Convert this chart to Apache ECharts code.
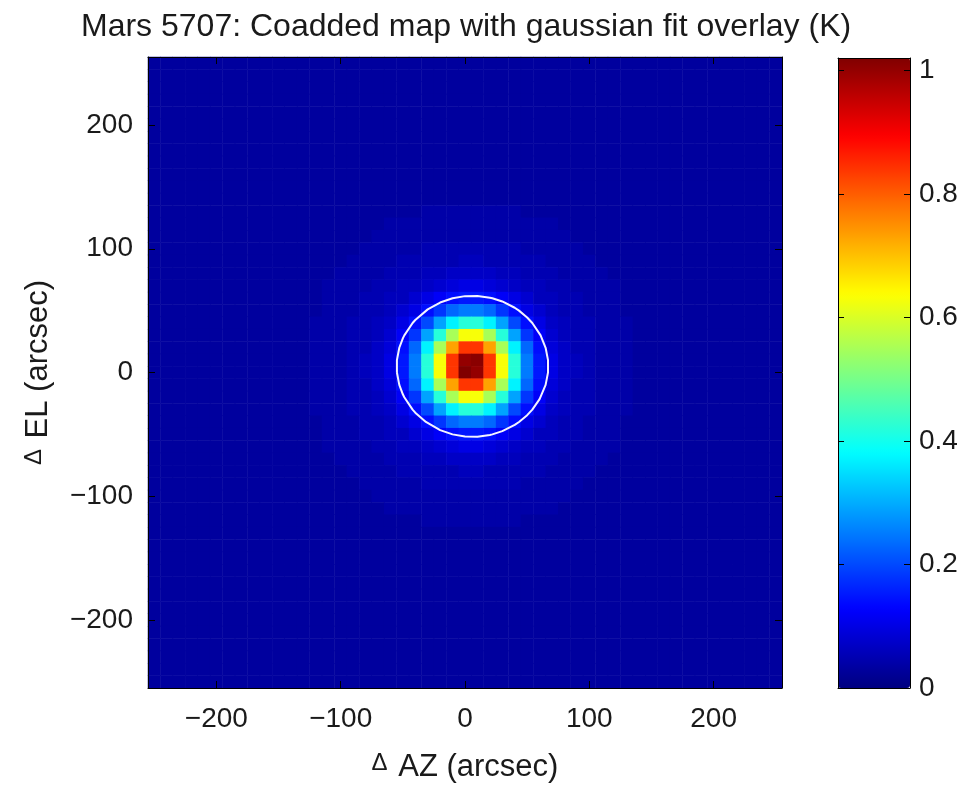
<!DOCTYPE html>
<html>
<head>
<meta charset="utf-8">
<script src="https://cdn.jsdelivr.net/npm/echarts@6/dist/echarts.min.js"></script>
<style>
  html, body { margin: 0; padding: 0; background: #ffffff; }
  #chart { width: 976px; height: 794px; }
</style>
</head>
<body>
<div id="chart"></div>
<script>
// Map pixel centres, arcsec offset from the source position
const azOffsets = [-250,-240,-230,-220,-210,-200,-190,-180,-170,-160,-150,-140,-130,-120,-110,-100,-90,-80,-70,-60,-50,-40,-30,-20,-10,0,10,20,30,40,50,60,70,80,90,100,110,120,130,140,150,160,170,180,190,200,210,220,230,240,250];
// Elevation rows, listed top (+250) to bottom (-250)
const elOffsets = [250,240,230,220,210,200,190,180,170,160,150,140,130,120,110,100,90,80,70,60,50,40,30,20,10,0,-10,-20,-30,-40,-50,-60,-70,-80,-90,-100,-110,-120,-130,-140,-150,-160,-170,-180,-190,-200,-210,-220,-230,-240,-250];

// Coadded brightness, hundredths of a kelvin; one row per elevation in elOffsets
const mapRows = [
  [3,3,3,3,3,3,3,3,3,3,3,3,3,3,3,3,3,3,3,3,3,3,3,3,3,3,3,3,3,3,3,3,3,3,3,3,3,3,3,3,3,3,3,3,3,3,3,3,3,3,3],
  [3,3,3,3,3,3,3,3,3,3,3,3,3,3,3,3,3,3,3,3,3,3,3,3,3,3,3,3,3,3,3,3,3,3,3,3,3,3,3,3,3,3,3,3,3,3,3,3,3,3,3],
  [3,3,3,3,3,3,3,3,3,3,3,3,3,3,3,3,3,3,3,3,3,3,3,3,3,3,3,3,3,3,3,3,3,3,3,3,3,3,3,3,3,3,3,3,3,3,3,3,3,3,3],
  [3,3,3,3,3,3,3,3,3,3,3,3,3,3,3,3,3,3,3,3,3,3,3,3,3,3,3,3,3,3,3,3,3,3,3,3,3,3,3,3,3,3,3,3,3,3,3,3,3,3,3],
  [3,3,3,3,3,3,3,3,3,3,3,3,3,3,3,3,3,3,3,3,3,3,3,3,3,3,3,3,3,3,3,3,3,3,3,3,3,3,3,3,3,3,3,3,3,3,3,3,3,3,3],
  [3,3,3,3,3,3,3,3,3,3,3,3,3,3,3,3,3,3,3,3,3,3,3,3,3,3,3,3,3,3,3,3,3,3,3,3,3,3,3,3,3,3,3,3,3,3,3,3,3,3,3],
  [3,3,3,3,3,3,3,3,3,3,3,3,3,3,3,3,3,3,3,3,3,3,3,3,3,3,3,3,3,3,3,3,3,3,3,3,3,3,3,3,3,3,3,3,3,3,3,3,3,3,3],
  [3,3,3,3,3,3,3,3,3,3,3,3,3,3,3,3,3,3,3,3,3,3,3,3,3,3,3,3,3,3,3,3,3,3,3,3,3,3,3,3,3,3,3,3,3,3,3,3,3,3,3],
  [3,3,3,3,3,3,3,3,3,3,3,3,3,3,3,3,3,3,3,3,3,3,3,3,3,3,3,3,3,3,3,3,3,3,3,3,3,3,3,3,3,3,3,3,3,3,3,3,3,3,3],
  [3,3,3,3,3,3,3,3,3,3,3,3,3,3,3,3,3,3,3,3,3,3,3,3,3,3,3,3,3,3,3,3,3,3,3,3,3,3,3,3,3,3,3,3,3,3,3,3,3,3,3],
  [3,3,3,3,3,3,3,3,3,3,3,3,3,3,3,3,3,3,3,3,3,3,3,3,3,3,3,3,3,3,3,3,3,3,3,3,3,3,3,3,3,3,3,3,3,3,3,3,3,3,3],
  [3,3,3,3,3,3,3,3,3,3,3,3,3,3,3,3,3,3,3,3,3,3,3,3,3,3,3,3,3,3,3,3,3,3,3,3,3,3,3,3,3,3,3,3,3,3,3,3,3,3,3],
  [3,3,3,3,3,3,3,3,3,3,3,3,3, 3,3,3,3,3,3,3,3,3,4,4,4, 4,4, 4,4,4,3,3,3,3,3,3,3,3,3, 3,3,3,3,3,3,3,3,3,3,3,3],
  [3,3,3,3,3,3,3,3,3,3,3,3,3, 3,3,3,3,3,3,4,4,4,4,4,4, 4,4, 4,4,4,4,4,4,3,3,3,3,3,3, 3,3,3,3,3,3,3,3,3,3,3,3],
  [3,3,3,3,3,3,3,3,3,3,3,3,3, 3,3,3,3,3,4,4,4,4,4,4,4, 4,4, 4,4,4,4,4,4,4,3,3,3,3,3, 3,3,3,3,3,3,3,3,3,3,3,3],
  [3,3,3,3,3,3,3,3,3,3,3,3,3, 3,3,3,3,4,4,4,4,4,5,5,5, 5,5, 5,5,5,4,4,4,4,4,3,3,3,3, 3,3,3,3,3,3,3,3,3,3,3,3],
  [3,3,3,3,3,3,3,3,3,3,3,3,3, 3,3,3,4,4,4,4,5,5,5,5,5, 6,6, 5,5,5,5,5,4,4,4,4,3,3,3, 3,3,3,3,3,3,3,3,3,3,3,3],
  [3,3,3,3,3,3,3,3,3,3,3,3,3, 3,3,4,4,4,4,5,5,5,6,6,7, 7,7, 7,6,6,5,5,5,4,4,4,4,3,3, 3,3,3,3,3,3,3,3,3,3,3,3],
  [3,3,3,3,3,3,3,3,3,3,3,3,3, 3,4,4,4,4,5,5,6,6,7,8,9, 10,10, 9,8,7,6,6,5,5,4,4,4,4,3, 3,3,3,3,3,3,3,3,3,3,3,3],
  [3,3,3,3,3,3,3,3,3,3,3,3,3, 3,4,4,4,5,5,6,6,8,10,12,14, 15,15, 14,12,10,8,6,6,5,5,4,4,4,3, 3,3,3,3,3,3,3,3,3,3,3,3],
  [3,3,3,3,3,3,3,3,3,3,3,3,3, 3,4,4,4,5,5,6,8,10,14,18,23, 25,25, 23,18,14,10,8,6,5,5,4,4,4,3, 3,3,3,3,3,3,3,3,3,3,3,3],
  [3,3,3,3,3,3,3,3,3,3,3,3,3, 4,4,4,5,5,6,7,10,14,20,29,37, 42,42, 37,29,20,14,10,7,6,5,5,4,4,4, 3,3,3,3,3,3,3,3,3,3,3,3],
  [3,3,3,3,3,3,3,3,3,3,3,3,3, 4,4,4,5,5,6,8,12,18,29,42,55, 63,63, 55,42,29,18,12,8,6,5,5,4,4,4, 3,3,3,3,3,3,3,3,3,3,3,3],
  [3,3,3,3,3,3,3,3,3,3,3,3,3, 4,4,4,5,5,7,9,14,23,37,55,73, 84,84, 73,55,37,23,14,9,7,5,5,4,4,4, 3,3,3,3,3,3,3,3,3,3,3,3],
  [3,3,3,3,3,3,3,3,3,3,3,3,3, 4,4,4,5,6,7,10,15,25,42,63,84, 100,101, 84,63,42,25,15,10,7,6,5,4,4,4, 3,3,3,3,3,3,3,3,3,3,3,3],
  [3,3,3,3,3,3,3,3,3,3,3,3,3, 4,4,4,5,6,7,10,15,25,42,63,84, 102,100, 84,63,42,25,15,10,7,6,5,4,4,4, 3,3,3,3,3,3,3,3,3,3,3,3],
  [3,3,3,3,3,3,3,3,3,3,3,3,3, 4,4,4,5,5,7,9,14,23,37,55,73, 84,84, 73,55,37,23,14,9,7,5,5,4,4,4, 3,3,3,3,3,3,3,3,3,3,3,3],
  [3,3,3,3,3,3,3,3,3,3,3,3,3, 4,4,4,5,5,6,8,12,18,29,42,55, 63,63, 55,42,29,18,12,8,6,5,5,4,4,4, 3,3,3,3,3,3,3,3,3,3,3,3],
  [3,3,3,3,3,3,3,3,3,3,3,3,3, 4,4,4,5,5,6,7,10,14,20,29,37, 42,42, 37,29,20,14,10,7,6,5,5,4,4,4, 3,3,3,3,3,3,3,3,3,3,3,3],
  [3,3,3,3,3,3,3,3,3,3,3,3,3, 3,4,4,4,5,5,6,8,10,14,18,23, 25,25, 23,18,14,10,8,6,5,5,4,4,4,3, 3,3,3,3,3,3,3,3,3,3,3,3],
  [3,3,3,3,3,3,3,3,3,3,3,3,3, 3,4,4,4,5,5,6,6,8,10,12,14, 15,15, 14,12,10,8,6,6,5,5,4,4,4,3, 3,3,3,3,3,3,3,3,3,3,3,3],
  [3,3,3,3,3,3,3,3,3,3,3,3,3, 3,4,4,4,4,5,5,6,6,7,8,9, 10,10, 9,8,7,6,6,5,5,4,4,4,4,3, 3,3,3,3,3,3,3,3,3,3,3,3],
  [3,3,3,3,3,3,3,3,3,3,3,3,3, 3,3,4,4,4,4,5,5,5,6,6,7, 7,7, 7,6,6,5,5,5,4,4,4,4,3,3, 3,3,3,3,3,3,3,3,3,3,3,3],
  [3,3,3,3,3,3,3,3,3,3,3,3,3, 3,3,3,4,4,4,4,5,5,5,5,5, 6,6, 5,5,5,5,5,4,4,4,4,3,3,3, 3,3,3,3,3,3,3,3,3,3,3,3],
  [3,3,3,3,3,3,3,3,3,3,3,3,3, 3,3,3,3,4,4,4,4,4,5,5,5, 5,5, 5,5,5,4,4,4,4,4,3,3,3,3, 3,3,3,3,3,3,3,3,3,3,3,3],
  [3,3,3,3,3,3,3,3,3,3,3,3,3, 3,3,3,3,3,4,4,4,4,4,4,4, 4,4, 4,4,4,4,4,4,4,3,3,3,3,3, 3,3,3,3,3,3,3,3,3,3,3,3],
  [3,3,3,3,3,3,3,3,3,3,3,3,3, 3,3,3,3,3,3,4,4,4,4,4,4, 4,4, 4,4,4,4,4,4,3,3,3,3,3,3, 3,3,3,3,3,3,3,3,3,3,3,3],
  [3,3,3,3,3,3,3,3,3,3,3,3,3, 3,3,3,3,3,3,3,3,3,4,4,4, 4,4, 4,4,4,3,3,3,3,3,3,3,3,3, 3,3,3,3,3,3,3,3,3,3,3,3],
  [3,3,3,3,3,3,3,3,3,3,3,3,3,3,3,3,3,3,3,3,3,3,3,3,3,3,3,3,3,3,3,3,3,3,3,3,3,3,3,3,3,3,3,3,3,3,3,3,3,3,3],
  [3,3,3,3,3,3,3,3,3,3,3,3,3,3,3,3,3,3,3,3,3,3,3,3,3,3,3,3,3,3,3,3,3,3,3,3,3,3,3,3,3,3,3,3,3,3,3,3,3,3,3],
  [3,3,3,3,3,3,3,3,3,3,3,3,3,3,3,3,3,3,3,3,3,3,3,3,3,3,3,3,3,3,3,3,3,3,3,3,3,3,3,3,3,3,3,3,3,3,3,3,3,3,3],
  [3,3,3,3,3,3,3,3,3,3,3,3,3,3,3,3,3,3,3,3,3,3,3,3,3,3,3,3,3,3,3,3,3,3,3,3,3,3,3,3,3,3,3,3,3,3,3,3,3,3,3],
  [3,3,3,3,3,3,3,3,3,3,3,3,3,3,3,3,3,3,3,3,3,3,3,3,3,3,3,3,3,3,3,3,3,3,3,3,3,3,3,3,3,3,3,3,3,3,3,3,3,3,3],
  [3,3,3,3,3,3,3,3,3,3,3,3,3,3,3,3,3,3,3,3,3,3,3,3,3,3,3,3,3,3,3,3,3,3,3,3,3,3,3,3,3,3,3,3,3,3,3,3,3,3,3],
  [3,3,3,3,3,3,3,3,3,3,3,3,3,3,3,3,3,3,3,3,3,3,3,3,3,3,3,3,3,3,3,3,3,3,3,3,3,3,3,3,3,3,3,3,3,3,3,3,3,3,3],
  [3,3,3,3,3,3,3,3,3,3,3,3,3,3,3,3,3,3,3,3,3,3,3,3,3,3,3,3,3,3,3,3,3,3,3,3,3,3,3,3,3,3,3,3,3,3,3,3,3,3,3],
  [3,3,3,3,3,3,3,3,3,3,3,3,3,3,3,3,3,3,3,3,3,3,3,3,3,3,3,3,3,3,3,3,3,3,3,3,3,3,3,3,3,3,3,3,3,3,3,3,3,3,3],
  [3,3,3,3,3,3,3,3,3,3,3,3,3,3,3,3,3,3,3,3,3,3,3,3,3,3,3,3,3,3,3,3,3,3,3,3,3,3,3,3,3,3,3,3,3,3,3,3,3,3,3],
  [3,3,3,3,3,3,3,3,3,3,3,3,3,3,3,3,3,3,3,3,3,3,3,3,3,3,3,3,3,3,3,3,3,3,3,3,3,3,3,3,3,3,3,3,3,3,3,3,3,3,3],
  [3,3,3,3,3,3,3,3,3,3,3,3,3,3,3,3,3,3,3,3,3,3,3,3,3,3,3,3,3,3,3,3,3,3,3,3,3,3,3,3,3,3,3,3,3,3,3,3,3,3,3],
  [3,3,3,3,3,3,3,3,3,3,3,3,3,3,3,3,3,3,3,3,3,3,3,3,3,3,3,3,3,3,3,3,3,3,3,3,3,3,3,3,3,3,3,3,3,3,3,3,3,3,3]
];

// Labelled ticks
const mapTickValues = [-200, -100, 0, 100, 200];
const colourTickValues = [0, 0.2, 0.4, 0.6, 0.8, 1];
const colourRange = [0, 1.02];

// Gaussian fit: centre and half-widths of the overlaid contour (arcsec)
const fitCentre = [6, 5];
const fitHalfWidth = [61, 57];

// MATLAB "jet" colour map
const jet = ['#000080', '#0000ff', '#0080ff', '#00ffff', '#80ff80', '#ffff00', '#ff8000', '#ff0000', '#800000'];

const FONT = '"Liberation Sans", Arial, Helvetica, sans-serif';
const INK = '#1a1a1a';

// heatmap cells: [az index, el index, K]
const cells = [];
mapRows.forEach((row, r) => row.forEach((v, c) => cells.push([c, r, v / 100])));

// contour vertices where the fitted ellipse crosses the map's pixel grid lines
function contourPoints() {
  const [x0, y0] = fitCentre, [a, b] = fitHalfWidth;
  const pts = [];
  azOffsets.forEach(g => {
    const t = (g - x0) / a;
    if (Math.abs(t) < 1) { const d = b * Math.sqrt(1 - t * t); pts.push([g, y0 + d], [g, y0 - d]); }
  });
  elOffsets.forEach(g => {
    const t = (g - y0) / b;
    if (Math.abs(t) < 1) { const d = a * Math.sqrt(1 - t * t); pts.push([x0 + d, g], [x0 - d, g]); }
  });
  pts.sort((p, q) => Math.atan2(p[1] - y0, p[0] - x0) - Math.atan2(q[1] - y0, q[0] - x0));
  pts.push(pts[0]);
  return pts;
}

const minus = v => String(v).replace('-', '\u2212');
const onMapTick = (i, v) => mapTickValues.indexOf(Number(v)) >= 0;

const PLOT = { left: 148, top: 57, width: 634, height: 631 };
const BAR = { left: 838, top: 58, width: 72, height: 630 };

const lineBlack = { show: true, onZero: false, lineStyle: { color: '#000', width: 1 } };
const nameRich = { d: { fontSize: 24, fontFamily: FONT, color: INK, padding: [0, 2, 8, 0] } };

const chart = echarts.init(document.getElementById('chart'), null, { renderer: 'canvas' });
chart.setOption({
  backgroundColor: '#ffffff',
  animation: false,
  graphic: [{
    type: 'text', left: 81, top: 11,
    style: { text: 'Mars 5707: Coadded map with gaussian fit overlay (K)', font: '32px ' + FONT, fill: INK }
  }],
  grid: [
    Object.assign({ containLabel: false }, PLOT),
    Object.assign({ containLabel: false }, BAR)
  ],
  xAxis: [
    {
      type: 'category', gridIndex: 0, data: azOffsets, position: 'bottom', z: 10,
      axisLine: lineBlack,
      axisTick: { show: true, inside: true, length: 7, alignWithLabel: true, interval: onMapTick, lineStyle: { color: '#000' } },
      axisLabel: { interval: onMapTick, formatter: minus, fontSize: 28, fontFamily: FONT, color: INK, margin: 17 },
      splitLine: { show: false },
      name: '{d|\u0394} AZ (arcsec)', nameLocation: 'middle', nameGap: 63,
      nameTextStyle: { fontSize: 31, fontFamily: FONT, color: INK, rich: nameRich }
    },
    {
      type: 'category', gridIndex: 0, data: azOffsets, position: 'top', z: 10,
      axisLine: lineBlack,
      axisTick: { show: true, inside: true, length: 7, alignWithLabel: true, interval: onMapTick, lineStyle: { color: '#000' } },
      axisLabel: { show: false }, splitLine: { show: false }
    },
    { type: 'value', gridIndex: 0, min: -255, max: 255, show: false },
    { type: 'value', gridIndex: 1, min: 0, max: 1, position: 'bottom', z: 10, axisLine: lineBlack, axisTick: { show: false }, axisLabel: { show: false }, splitLine: { show: false } },
    { type: 'value', gridIndex: 1, min: 0, max: 1, position: 'top', z: 10, axisLine: lineBlack, axisTick: { show: false }, axisLabel: { show: false }, splitLine: { show: false } }
  ],
  yAxis: [
    {
      type: 'category', gridIndex: 0, data: elOffsets, inverse: true, position: 'left', z: 10,
      axisLine: lineBlack,
      axisTick: { show: true, inside: true, length: 7, alignWithLabel: true, interval: onMapTick, lineStyle: { color: '#000' } },
      axisLabel: { interval: onMapTick, formatter: minus, fontSize: 28, fontFamily: FONT, color: INK, margin: 15 },
      splitLine: { show: false },
      name: '{d|\u0394} EL (arcsec)', nameLocation: 'middle', nameGap: 94, nameRotate: 90,
      nameTextStyle: { fontSize: 31, fontFamily: FONT, color: INK, rich: nameRich }
    },
    {
      type: 'category', gridIndex: 0, data: elOffsets, inverse: true, position: 'right', z: 10,
      axisLine: lineBlack,
      axisTick: { show: true, inside: true, length: 7, alignWithLabel: true, interval: onMapTick, lineStyle: { color: '#000' } },
      axisLabel: { show: false }, splitLine: { show: false }
    },
    { type: 'value', gridIndex: 0, min: -255, max: 255, show: false },
    {
      type: 'value', gridIndex: 1, min: colourRange[0], max: colourRange[1], interval: 0.2, position: 'right', z: 10,
      axisLine: lineBlack,
      axisTick: { show: true, inside: true, length: 6, lineStyle: { color: '#000' } },
      axisLabel: {
        fontSize: 28, fontFamily: FONT, color: INK, margin: 9,
        formatter: v => colourTickValues.some(t => Math.abs(t - v) < 1e-9) ? String(+v.toFixed(1)) : ''
      },
      splitLine: { show: false }
    },
    {
      type: 'value', gridIndex: 1, min: colourRange[0], max: colourRange[1], interval: 0.2, position: 'left', z: 10,
      axisLine: lineBlack,
      axisTick: { show: true, inside: true, length: 6, lineStyle: { color: '#000' } },
      axisLabel: { show: false }, splitLine: { show: false }
    }
  ],
  visualMap: {
    type: 'continuous', seriesIndex: 0, min: colourRange[0], max: colourRange[1],
    inRange: { color: jet }, calculable: false, orient: 'vertical', z: 1,
    left: BAR.left, top: BAR.top, itemWidth: BAR.width, itemHeight: BAR.height, padding: 0,
    text: null, hoverLink: false
  },
  series: [
    {
      type: 'heatmap', xAxisIndex: 0, yAxisIndex: 0, data: cells,
      itemStyle: { borderWidth: 0 }, emphasis: { disabled: true }, progressive: 0
    },
    {
      type: 'line', xAxisIndex: 2, yAxisIndex: 2, data: contourPoints(),
      showSymbol: false, symbol: 'none', smooth: false, silent: true, z: 5,
      lineStyle: { color: '#f4f4ff', width: 2 }
    }
  ]
});
</script>
</body>
</html>
